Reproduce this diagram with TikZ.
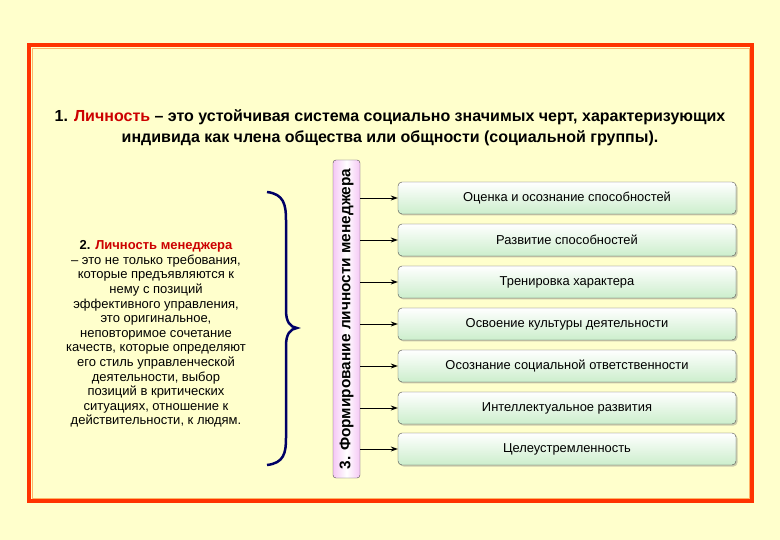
\documentclass[tikz,border=0pt]{standalone}
\usepackage{fontspec}
\setmainfont{Liberation Sans}
\usetikzlibrary{shadows,arrows.meta}
\definecolor{bg}{HTML}{FFFFCC}
\definecolor{fr}{HTML}{FF3300}
\definecolor{dred}{HTML}{CC0000}
\definecolor{navy}{HTML}{000066}
\definecolor{gbox}{HTML}{CCEECC}
\definecolor{pbar}{HTML}{F5C8F5}
\tikzset{
 item/.style={draw=black!70, rounded corners=4pt, minimum width=338pt, minimum height=32pt,
   top color=white, bottom color=gbox, drop shadow={shadow xshift=1.5pt,shadow yshift=-1.5pt,opacity=0.4},
   font=\fontsize{12.9}{14}\selectfont, inner sep=0pt},
 conn/.style={-{Stealth[length=7pt,width=5pt]}, thick}
}
\begin{document}
\begin{tikzpicture}[x=1pt,y=-1pt]
\fill[bg] (0,0) rectangle (780,540);
\useasboundingbox (0,0) rectangle (780,540);
\draw[fr, line width=4pt] (29,45) rectangle (752,501);
\draw[orange!60, line width=0.8pt] (32,48) rectangle (749,498);
\node (title) at (390,128) [align=center, font=\bfseries\fontsize{16}{21}\selectfont]
 {1. \textcolor{dred}{Личность} – это устойчивая система социально значимых черт, характеризующих\\
  индивида как члена общества или общности (социальной группы).};
\node (bar) [draw=black!70, rounded corners=3pt, left color=pbar, right color=pbar, middle color=white,
  minimum width=27pt, minimum height=318pt, inner sep=0pt] at (346.5,319) {};
\node (bartext) at (bar.center) [rotate=90, font=\bfseries\fontsize{15.4}{16}\selectfont] {3. Формирование личности менеджера};
\foreach \i/\y/\t in {1/198/Оценка и осознание способностей, 2/240/Развитие способностей,
 3/282/Тренировка характера, 4/324/Освоение культуры деятельности,
 5/366/Осознание социальной ответственности, 6/408/Интеллектуальное развития,
 7/449/Целеустремленность}{
 \node[item] (b\i) at (567,\y) {\t};
 \coordinate (s\i) at (bar.east |- b\i.west);
 \draw[conn] (s\i) -- (b\i.west);
}
\draw[navy, line width=2.5pt] (267,192) .. controls (284,194) and (286,205) .. (286,220)
  -- (286,310) .. controls (286,322) and (290,327) .. (297,328)
  .. controls (290,329) and (286,334) .. (286,346) -- (286,438)
  .. controls (286,453) and (284,463) .. (267,465);
\node (left) at (156,334) [align=center, font=\fontsize{13}{14.6}\selectfont]
 {\textbf{2. \textcolor{dred}{Личность менеджера}}\\
 – это не только требования,\\ которые предъявляются к\\ нему с позиций\\
 эффективного управления,\\ это оригинальное,\\ неповторимое сочетание\\
 качеств, которые определяют\\ его стиль управленческой\\ деятельности, выбор\\
 позиций в критических\\ ситуациях, отношение к\\ действительности, к людям.};
\end{tikzpicture}
\end{document}
